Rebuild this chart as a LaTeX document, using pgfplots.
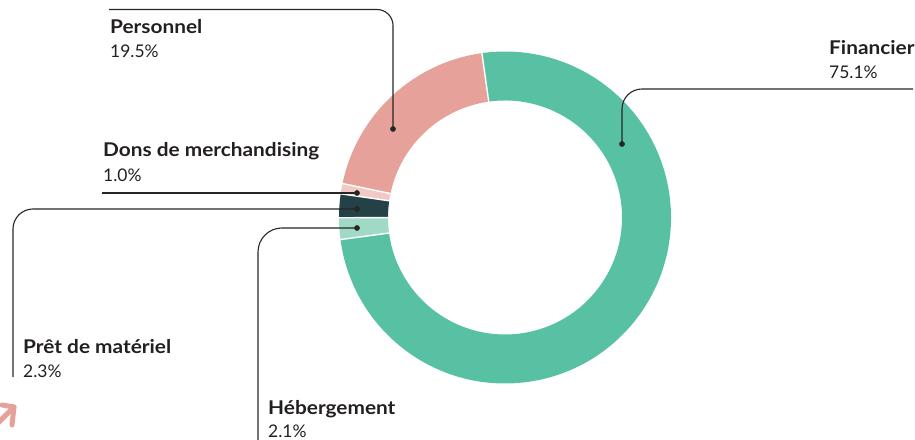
\documentclass[border=0pt]{standalone}
\usepackage{pgfplots}
\pgfplotsset{compat=1.18}
\usepackage{pgfplotstable}
\usepackage{fontspec}
\setmainfont{Lato}[BoldFeatures={FakeStretch=1.1}]

\definecolor{cFin}{HTML}{58C1A3}
\definecolor{cPers}{HTML}{E5A19A}
\definecolor{cDons}{HTML}{F2CAC5}
\definecolor{cPret}{HTML}{244148}
\definecolor{cHeb}{HTML}{A0DAC6}
\definecolor{cTxt}{HTML}{231F20}
\definecolor{cLine}{HTML}{262626}

\pgfplotstableread{
name pct
Personnel 19.5
Dons 1.0
Pret 2.3
Hebergement 2.1
Financier 75.1
}\slicedata

\def\startangle{98}
\pgfplotstablegetelem{0}{pct}\of\slicedata \pgfmathsetmacro\aA{\startangle+3.6*\pgfplotsretval}
\pgfplotstablegetelem{1}{pct}\of\slicedata \pgfmathsetmacro\aB{\aA+3.6*\pgfplotsretval}
\pgfplotstablegetelem{2}{pct}\of\slicedata \pgfmathsetmacro\aC{\aB+3.6*\pgfplotsretval}
\pgfplotstablegetelem{3}{pct}\of\slicedata \pgfmathsetmacro\aD{\aC+3.6*\pgfplotsretval}
\pgfplotstablegetelem{4}{pct}\of\slicedata \pgfmathsetmacro\aE{\aD+3.6*\pgfplotsretval}

\newcommand\slice[3]{%
  \fill[#3, shift={(axis cs:505,222.5)}] (#1:166bp) arc[start angle=#1, end angle=#2, radius=166bp]
    -- (#2:117bp) arc[start angle=#2, end angle=#1, radius=117bp] -- cycle;}
\newcommand\sep[1]{%
  \draw[white, line width=1.4bp, shift={(axis cs:505,222.5)}] (#1:114bp) -- (#1:169bp);}
\newcommand\lab[5]{%
  \node[anchor=base west, inner sep=0pt, text=cTxt, font=\fontsize{19}{19}\selectfont\bfseries] at (axis cs:#1,#2) {#3};
  \node[anchor=base west, inner sep=0pt, text=cTxt, font=\fontsize{17.5}{17.5}\selectfont] at (axis cs:#1,#4) {#5};}

\begin{document}
\begin{tikzpicture}
\begin{axis}[
  width=915bp, height=440bp, scale only axis,
  xmin=0, xmax=915, ymin=0, ymax=440,
  hide axis, clip=false,
]
% donut slices (counter-clockwise from the top)
\slice{\startangle}{\aA}{cPers}
\slice{\aA}{\aB}{cDons}
\slice{\aB}{\aC}{cPret}
\slice{\aC}{\aD}{cHeb}
\slice{\aD}{\aE}{cFin}
\sep{\startangle}\sep{\aA}\sep{\aB}\sep{\aC}\sep{\aD}

% leader lines
\addplot[cLine, line width=1.1bp, rounded corners=16bp, no marks] coordinates {(109,430.5) (393,430.5) (393,311)};
\addplot[cLine, line width=1.1bp, rounded corners=20bp, no marks] coordinates {(622,296) (622,351) (913,351)};
\addplot[cLine, line width=1.1bp, no marks] coordinates {(102,247) (357,247)};
\addplot[cLine, line width=1.1bp, rounded corners=20bp, no marks] coordinates {(357,231) (13,231) (13,63)};
\addplot[cLine, line width=1.1bp, rounded corners=24bp, no marks] coordinates {(357,212) (258,212) (258,-2)};
% dots
\addplot[only marks, mark=*, mark size=2.6bp, cLine] coordinates {(393,311) (622,296) (357,247) (357,231) (357,212)};

% labels
\lab{829}{385}{Financier}{361}{75.1\%}
\lab{110}{406}{Personnel}{382}{19.5\%}
\lab{103}{283}{Dons de merchandising}{258}{1.0\%}
\lab{23}{86}{Prêt de matériel}{62}{2.3\%}
\lab{268}{25}{Hébergement}{2.5}{2.1\%}

% decorative arrow (partly outside the frame)
\addplot[cPers, line width=5bp, line cap=round, line join=round, no marks] coordinates {(2,35) (14,33) (12,15)};
\addplot[cPers, line width=5bp, line cap=round, no marks] coordinates {(14,33) (-6,13)};
\end{axis}
\pgfresetboundingbox
\path (current axis.south west) rectangle (current axis.north east);
\end{tikzpicture}
\end{document}
